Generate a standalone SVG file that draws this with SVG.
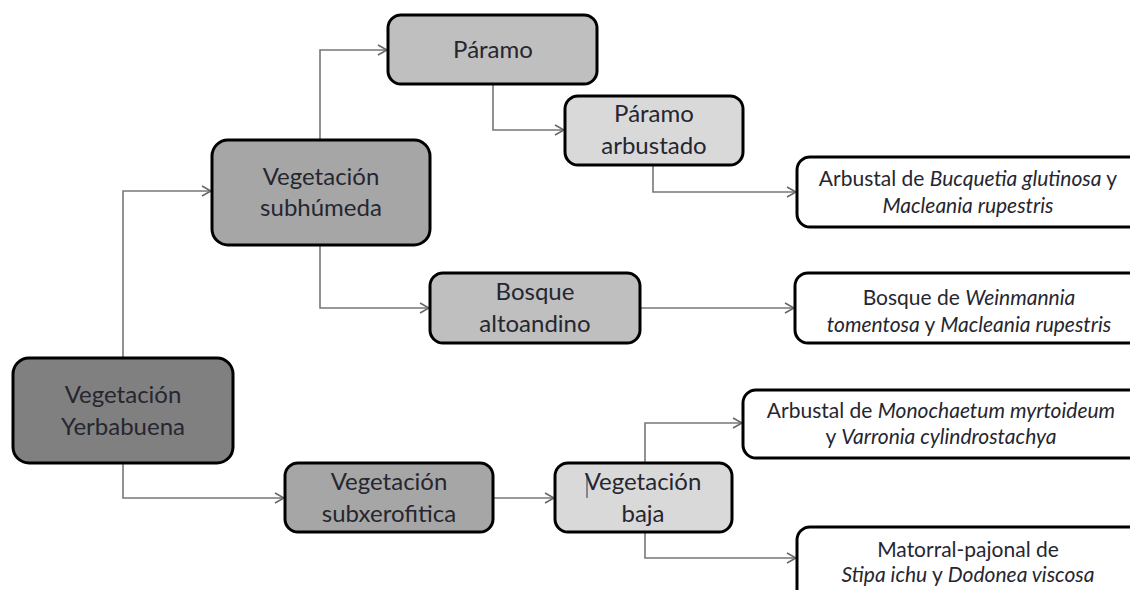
<svg xmlns="http://www.w3.org/2000/svg" width="1130" height="590" viewBox="0 0 1130 590">
<defs>
<marker id="arr" markerWidth="12" markerHeight="12" refX="10" refY="6" orient="auto" markerUnits="userSpaceOnUse">
<path d="M1,1 L10,6 L1,11" fill="none" stroke="#666" stroke-width="1.5"/>
</marker>
<style>
.box{stroke:#000;stroke-width:3}
.t{font-family:Lato,"Open Sans","Liberation Sans",sans-serif;font-size:24px;fill:#262630;text-anchor:middle}
.s{font-family:Lato,"Open Sans","Liberation Sans",sans-serif;font-size:21px;fill:#262630;text-anchor:middle}
.i{font-style:italic}
.c{fill:none;stroke:#777;stroke-width:1.6;marker-end:url(#arr)}
</style>
</defs>
<rect width="1130" height="590" fill="#fff"/>
<g id="connectors">
<path class="c" d="M123,358 V191 H211"/>
<path class="c" d="M123,463 V498 H284"/>
<path class="c" d="M320,140 V50 H387"/>
<path class="c" d="M320,245 V308 H429"/>
<path class="c" d="M493,84 V130 H564"/>
<path class="c" d="M653,165 V192 H796"/>
<path class="c" d="M640,308 H794"/>
<path class="c" d="M493,498 H554"/>
<path class="c" d="M645,463 V423 H742"/>
<path class="c" d="M645,532 V558 H796"/>
</g>
<g id="yerbabuena">
<rect class="box" x="13" y="358" width="220" height="105" rx="16" fill="#808080"/>
<text class="t" x="123" y="403">Vegetación</text>
<text class="t" x="123" y="435">Yerbabuena</text>
</g>
<g id="subhumeda">
<rect class="box" x="212" y="140" width="218" height="105" rx="16" fill="#a6a6a6"/>
<text class="t" x="321" y="185">Vegetación</text>
<text class="t" x="321" y="216">subhúmeda</text>
</g>
<g id="paramo">
<rect class="box" x="388" y="15" width="209" height="69" rx="13" fill="#bfbfbf"/>
<text class="t" x="493" y="58">Páramo</text>
</g>
<g id="paramo-arbustado">
<rect class="box" x="565" y="96" width="178" height="69" rx="13" fill="#d9d9d9"/>
<text class="t" x="654" y="122">Páramo</text>
<text class="t" x="654" y="154">arbustado</text>
</g>
<g id="bucquetia">
<rect class="box" x="797" y="157" width="345" height="70" rx="13" fill="#fff"/>
<text class="s" x="968" y="186">Arbustal de <tspan class="i">Bucquetia glutinosa</tspan> y</text>
<text class="s" x="968" y="213"><tspan class="i">Macleania rupestris</tspan></text>
</g>
<g id="bosque-altoandino">
<rect class="box" x="430" y="273" width="210" height="70" rx="13" fill="#bfbfbf"/>
<text class="t" x="535" y="300">Bosque</text>
<text class="t" x="535" y="332">altoandino</text>
</g>
<g id="weinmannia">
<rect class="box" x="795" y="273" width="347" height="70" rx="13" fill="#fff"/>
<text class="s" x="969" y="305">Bosque de <tspan class="i">Weinmannia</tspan></text>
<text class="s" x="969" y="332"><tspan class="i">tomentosa</tspan> y <tspan class="i">Macleania rupestris</tspan></text>
</g>
<g id="subxerofitica">
<rect class="box" x="285" y="463" width="208" height="69" rx="13" fill="#a6a6a6"/>
<text class="t" x="389" y="490">Vegetación</text>
<text class="t" x="389" y="522">subxerofitica</text>
</g>
<g id="vegetacion-baja">
<rect class="box" x="555" y="463" width="177" height="69" rx="13" fill="#d9d9d9"/>
<line x1="587" y1="474" x2="587" y2="498" stroke="#333" stroke-width="1"/>
<text class="t" x="643" y="490">Vegetación</text>
<text class="t" x="643" y="522">baja</text>
</g>
<g id="monochaetum">
<rect class="box" x="743" y="390" width="399" height="68" rx="13" fill="#fff"/>
<text class="s" x="941" y="418">Arbustal de <tspan class="i">Monochaetum myrtoideum</tspan></text>
<text class="s" x="941" y="444">y <tspan class="i">Varronia cylindrostachya</tspan></text>
</g>
<g id="matorral">
<rect class="box" x="797" y="527" width="345" height="80" rx="13" fill="#fff"/>
<text class="s" x="968" y="557">Matorral-pajonal de</text>
<text class="s" x="968" y="582"><tspan class="i">Stipa ichu</tspan> y <tspan class="i">Dodonea viscosa</tspan></text>
</g>
</svg>
